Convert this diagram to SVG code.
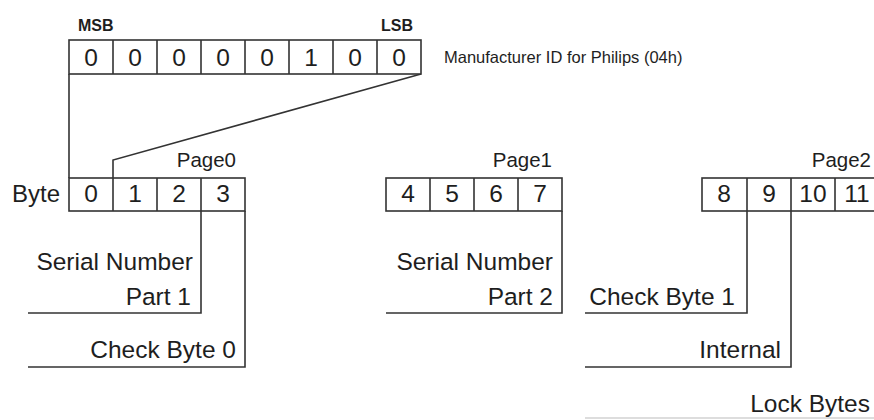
<svg xmlns="http://www.w3.org/2000/svg" width="874" height="420" viewBox="0 0 874 420">
<style>
.bx{fill:#fff;stroke:#333;stroke-width:1.6}
.dv{stroke:#333;stroke-width:1.6}
.ln{fill:none;stroke:#333;stroke-width:1.6}
.t{font-family:"Liberation Sans",Arial,sans-serif;fill:#1e1e1e}
.sm{font-size:16px}
.dg{font-size:24.5px;text-anchor:middle}
.lb{font-size:24.5px;text-anchor:end}
.pg{font-size:20.5px;text-anchor:end}
</style>
<rect width="874" height="420" fill="#fff"/>
<g id="connectors">
<polyline class="ln" points="69,74 69,178"/>
<polyline class="ln" points="421,74 113,160 113,178"/>
<polyline class="ln" points="201,211 201,313 28,313"/>
<polyline class="ln" points="245,211 245,367 28,367"/>
<polyline class="ln" points="562,211 562,313 386,313"/>
<polyline class="ln" points="747,211 747,313 585,313"/>
<polyline class="ln" points="791,211 791,367 585,367"/>
<line x1="585" y1="418" x2="874" y2="418" stroke="#bbb" stroke-width="1.2"/>
</g>
<g id="manufacturer-id">
<rect class="bx" x="69" y="40" width="352" height="34"/>
<path class="dv" d="M113,40V74M157,40V74M201,40V74M245,40V74M289,40V74M333,40V74M377,40V74"/>
<text class="t sm" x="78" y="31" font-weight="bold">MSB</text>
<text class="t sm" x="381" y="31" font-weight="bold">LSB</text>
<g class="t dg">
<text x="91" y="66">0</text><text x="135" y="66">0</text><text x="179" y="66">0</text><text x="223" y="66">0</text>
<text x="267" y="66">0</text><text x="311" y="66">1</text><text x="355" y="66">0</text><text x="399" y="66">0</text>
</g>
<text class="t" x="444" y="63" font-size="16.5px">Manufacturer ID for Philips (04h)</text>
</g>
<g id="page0">
<rect class="bx" x="69" y="178" width="176" height="33"/>
<path class="dv" d="M113,178V211M157,178V211M201,178V211"/>
<text class="t" x="12" y="202" font-size="24px">Byte</text>
<text class="t pg" x="236" y="167">Page0</text>
<g class="t dg">
<text x="91" y="202">0</text><text x="135" y="202">1</text><text x="179" y="202">2</text><text x="223" y="202">3</text>
</g>
</g>
<g id="page1">
<rect class="bx" x="386" y="178" width="176" height="33"/>
<path class="dv" d="M430,178V211M474,178V211M518,178V211"/>
<text class="t pg" x="552" y="167">Page1</text>
<g class="t dg">
<text x="408" y="202">4</text><text x="452" y="202">5</text><text x="496" y="202">6</text><text x="540" y="202">7</text>
</g>
</g>
<g id="page2">
<rect class="bx" x="702" y="178" width="180" height="33"/>
<path class="dv" d="M747,178V211M791,178V211M835,178V211"/>
<text class="t pg" x="871" y="167">Page2</text>
<g class="t dg">
<text x="724" y="202">8</text><text x="769" y="202">9</text><text x="813" y="202">10</text><text x="857" y="202">11</text>
</g>
</g>
<g id="serial-number-1">
<text class="t lb" x="193" y="270" font-size="25px">Serial Number</text>
<text class="t lb" x="191" y="305">Part 1</text>
</g>
<g id="check-byte-0">
<text class="t lb" x="236" y="358">Check Byte 0</text>
</g>
<g id="serial-number-2">
<text class="t lb" x="553" y="270" font-size="25px">Serial Number</text>
<text class="t lb" x="553" y="305">Part 2</text>
</g>
<g id="check-byte-1">
<text class="t lb" x="735" y="305">Check Byte 1</text>
</g>
<g id="internal">
<text class="t lb" x="781" y="358">Internal</text>
</g>
<g id="lock-bytes">
<text class="t lb" x="870" y="412">Lock Bytes</text>
</g>
</svg>
